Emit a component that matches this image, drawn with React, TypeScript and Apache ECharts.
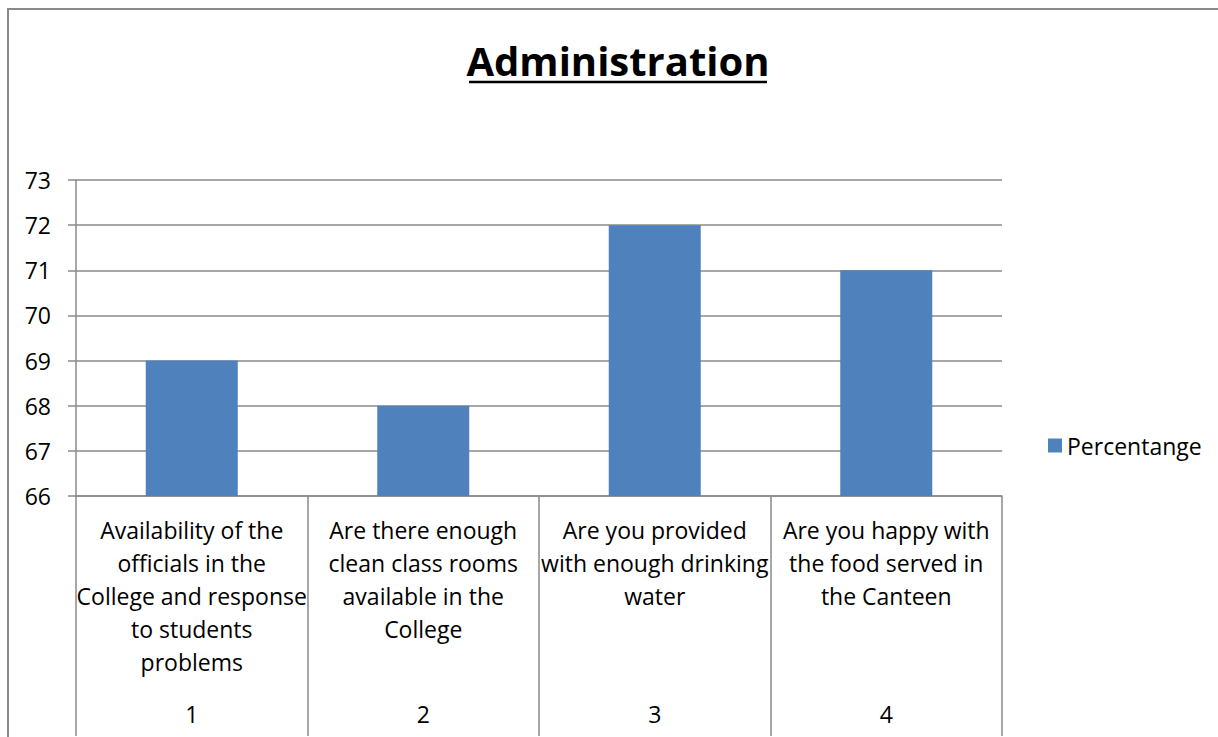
import React, { useEffect, useRef } from "react";
import * as echarts from "echarts";

const categories = [
  "Availability of the\nofficials in the\nCollege and response\nto students\nproblems",
  "Are there enough\nclean class rooms\navailable in the\nCollege",
  "Are you provided\nwith enough drinking\nwater",
  "Are you happy with\nthe food served in\nthe Canteen",
];
const categoryNumbers = ["1", "2", "3", "4"];
const percentage = [69, 68, 72, 71];
const seriesName = "Percentange";
const titleText = "Administration";

const FONT = "'Open Sans', 'Noto Sans', sans-serif";
const GRAY = "#8a8a8a";

export default function App() {
  const ref = useRef<HTMLDivElement>(null);
  useEffect(() => {
    if (!ref.current) return;
    const chart = echarts.init(ref.current, undefined, { renderer: "svg" });
    chart.setOption({
      animation: false,
      backgroundColor: "#fff",
      textStyle: { fontFamily: FONT },
      grid: { left: 76, right: 216, top: 180, bottom: 241, containLabel: false },
      legend: {
        data: [seriesName],
        left: 1043,
        top: 429,
        icon: "rect",
        itemWidth: 14,
        itemHeight: 14,
        textStyle: { fontSize: 23, color: "#000", fontFamily: FONT },
      },
      xAxis: [
        {
          type: "category",
          data: categories,
          position: "bottom",
          axisLine: { show: true, lineStyle: { color: GRAY, width: 1.5 } },
          axisTick: {
            show: true,
            alignWithLabel: false,
            length: 240,
            lineStyle: { color: GRAY, width: 1.5 },
          },
          axisLabel: {
            interval: 0,
            fontSize: 23,
            lineHeight: 33,
            color: "#000",
            margin: 17,
            align: "center",
            fontFamily: FONT,
          },
        },
        {
          type: "category",
          data: categoryNumbers,
          position: "bottom",
          axisLine: { show: false },
          axisTick: { show: false },
          axisLabel: {
            interval: 0,
            fontSize: 23,
            lineHeight: 33,
            color: "#000",
            margin: 201,
            fontFamily: FONT,
          },
        },
      ],
      yAxis: {
        type: "value",
        min: 66,
        max: 73,
        interval: 1,
        axisLine: { show: true, lineStyle: { color: GRAY, width: 1.5 } },
        axisTick: { show: true, length: 8, lineStyle: { color: GRAY, width: 1.5 } },
        splitLine: { show: true, lineStyle: { color: GRAY, width: 1.5 } },
        axisLabel: { fontSize: 23, color: "#000", margin: 25, fontFamily: FONT },
      },
      series: [
        {
          name: seriesName,
          type: "bar",
          data: percentage,
          barWidth: 92,
          xAxisIndex: 0,
          itemStyle: { color: "#4F81BD" },
        },
      ],
      graphic: [
        {
          type: "rect",
          shape: { x: 8, y: 9, width: 1260, height: 800 },
          style: { fill: "none", stroke: GRAY, lineWidth: 2 },
          silent: true,
          z: 100,
        },
        {
          type: "text",
          x: 618,
          y: 60,
          style: {
            text: titleText,
            fontSize: 40,
            fontWeight: "bold",
            fontFamily: FONT,
            fill: "#000",
            align: "center",
            verticalAlign: "middle",
          },
        },
        {
          type: "line",
          shape: { x1: 469, y1: 82, x2: 767, y2: 82 },
          style: { stroke: "#000", lineWidth: 2.5 },
        },
      ],
    });
    return () => chart.dispose();
  }, []);
  return (
    <div
      ref={ref}
      style={{ position: "fixed", left: 0, top: 0, width: 1218, height: 737 }}
    />
  );
}
